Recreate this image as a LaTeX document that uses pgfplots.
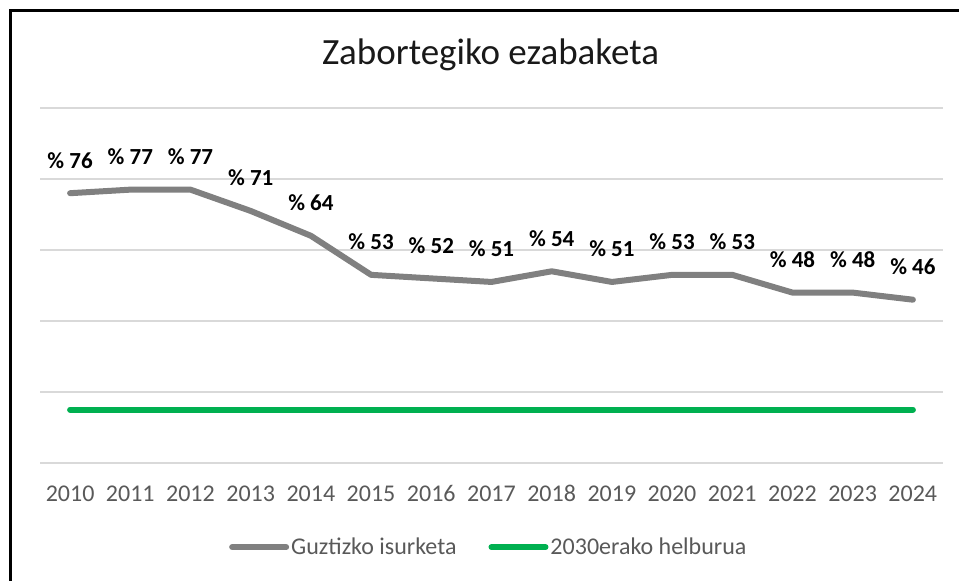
\documentclass[border=0pt]{standalone}
\usepackage{fontspec}
\setmainfont{Carlito}
\usepackage{pgfplots}
\pgfplotsset{compat=1.18}
\definecolor{gridgray}{HTML}{D9D9D9}
\definecolor{txtgray}{HTML}{595959}
\definecolor{linegray}{HTML}{808080}
\definecolor{goalgreen}{HTML}{00B050}
\begin{document}
\begin{tikzpicture}
\useasboundingbox (0pt,0pt) rectangle (959pt,581pt);
% frame of the chart (only left and top edges visible)
\draw[line width=2.5pt] (10.5pt,0pt) -- (10.5pt,570.5pt) -- (959pt,570.5pt);
\node[anchor=base, font=\fontsize{37}{44}\selectfont, text=black!90] at (490.5pt,516pt) {Zabortegiko ezabaketa};
\begin{axis}[
  at={(40pt,118pt)}, anchor=south west,
  scale only axis, width=903pt, height=355pt,
  xmin=2009.5, xmax=2024.5, ymin=0, ymax=100,
  xtick={2010,...,2024}, ytick={0,20,...,100}, yticklabels={},
  ymajorgrids, grid style={gridgray, line width=2pt},
  axis line style={draw=none}, major tick length=0pt,
  /pgf/number format/1000 sep={},
  /pgf/number format/assume math mode=true,
  xticklabel style={anchor=base, yshift=-39pt, font=\fontsize{24}{28}\selectfont, text=txtgray},
  clip=false,
  legend style={at={(0.497,-0.237)}, anchor=center, draw=none, fill=none,
    legend columns=2, font=\fontsize{24}{28}\selectfont, text=txtgray,
    /tikz/every even column/.append style={column sep=30pt},
    cells={anchor=west}},
  legend image code/.code={\draw[#1, line width=6pt, line cap=round] (0pt,0pt) -- (54pt,0pt);},
]
\addplot[linegray, line width=6pt, line join=round, line cap=round,
  nodes near coords={\%\ \pgfmathprintnumber{\pgfplotspointmeta}},
  every node near coord/.append style={anchor=base, yshift=25pt,
    font=\fontsize{23}{27}\selectfont\bfseries, text=black}]
coordinates {
(2010,76) (2011,77) (2012,77) (2013,71) (2014,64)
(2015,53) (2016,52) (2017,51) (2018,54) (2019,51)
(2020,53) (2021,53) (2022,48) (2023,48) (2024,46)};
\addlegendentry{Guztizko isurketa}
\addplot[goalgreen, line width=6pt, line cap=round]
coordinates {
(2010,15) (2011,15) (2012,15) (2013,15) (2014,15)
(2015,15) (2016,15) (2017,15) (2018,15) (2019,15)
(2020,15) (2021,15) (2022,15) (2023,15) (2024,15)};
\addlegendentry{2030erako helburua}
\end{axis}
\end{tikzpicture}
\end{document}
